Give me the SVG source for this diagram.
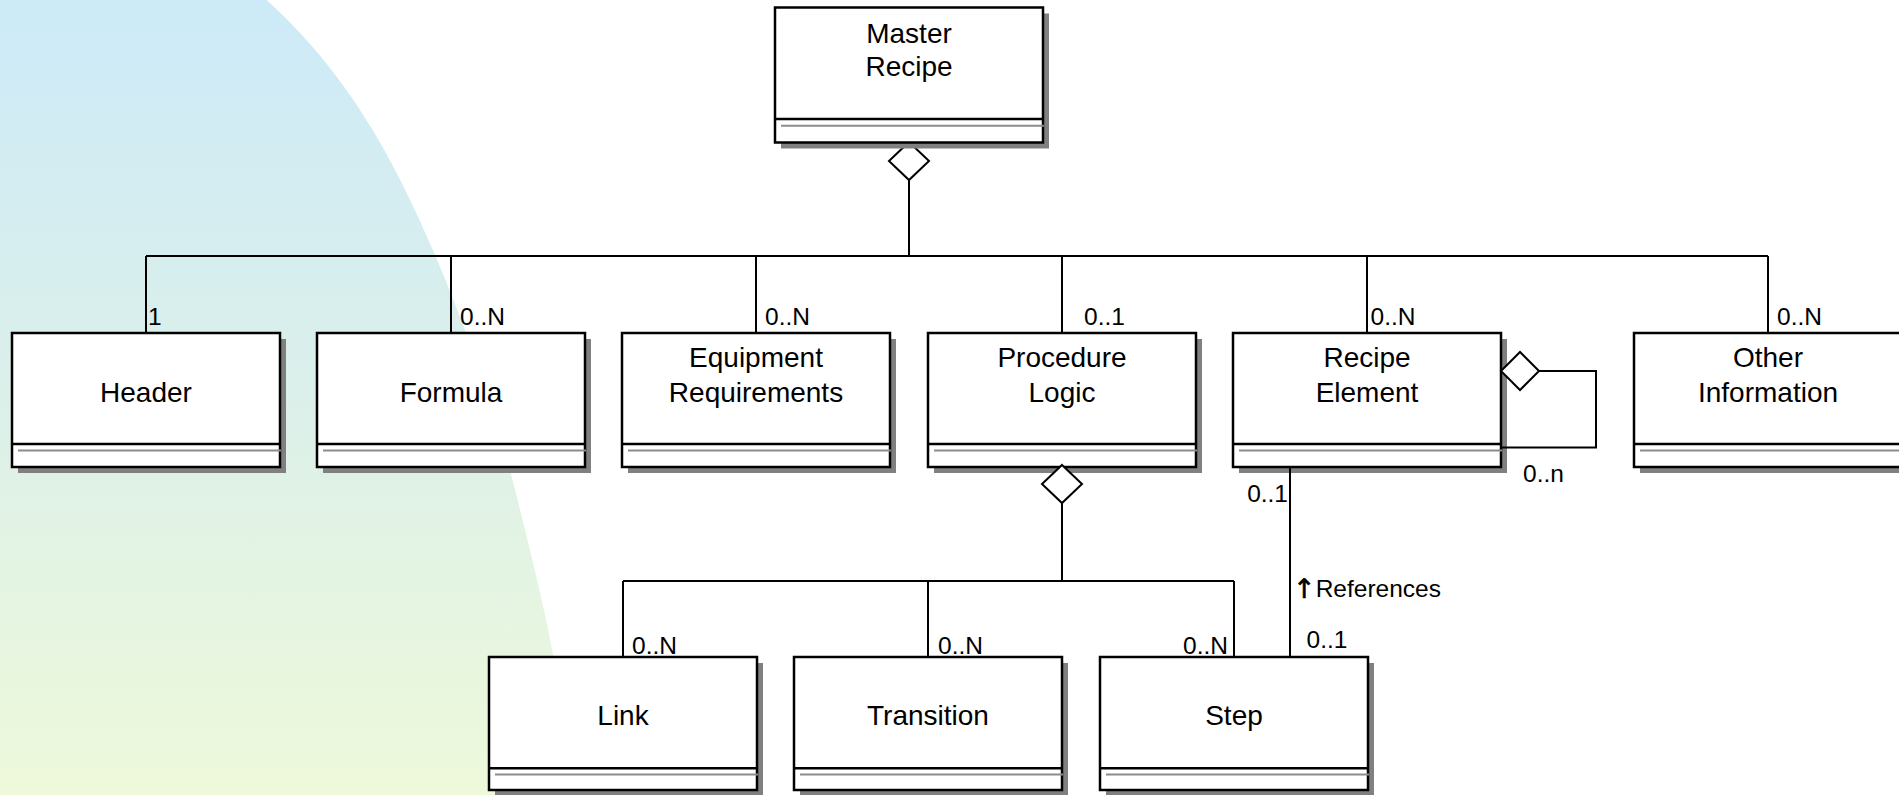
<svg xmlns="http://www.w3.org/2000/svg" width="1899" height="795" viewBox="0 0 1899 795">
  <defs>
    <linearGradient id="bgFill" x1="0" y1="0" x2="0" y2="1">
      <stop offset="0" stop-color="#cdeaf8"/>
      <stop offset="0.5" stop-color="#dcf0ea"/>
      <stop offset="1" stop-color="#eef9da"/>
    </linearGradient>
    <style>
      .shadow { fill: #808080; }
      .box { fill: #ffffff; stroke: #000000; stroke-width: 2.5; }
      .div { stroke: #000000; stroke-width: 2.5; }
      .attr { stroke: #8c8c8c; stroke-width: 2; }
      .name { font-family: "Liberation Sans", Arial, sans-serif; font-size: 28px; text-anchor: middle; fill: #000000; }
      .lbl { font-family: "Liberation Sans", Arial, sans-serif; font-size: 24.5px; fill: #000000; }
      .end { text-anchor: end; }
      .arrow { font-family: "DejaVu Sans", sans-serif; font-size: 27px; stroke: #000000; stroke-width: 0.6; }
      .wire { fill: none; stroke: #000000; stroke-width: 2; }
      .dia { fill: #ffffff; stroke: #000000; stroke-width: 2; }
    </style>
  </defs>

  <rect x="0" y="0" width="1899" height="795" fill="#ffffff"/>
  <!-- backdrop arc on the left -->
  <path id="backdrop" fill="url(#bgFill)" d="M0,0 H266.7 C298.2,28.7 322.9,57.3 343.5,86 C384.1,142.3 410.8,198.7 435,255 C470.1,336.7 497.2,418.3 517.6,500 C530.4,551.3 543.3,602.7 553,654 C561.9,701 569,748 576,795 H0 Z"/>

  <g id="nodes">
    <g id="header">
      <rect class="shadow" x="18" y="339" width="268" height="134"/>
      <rect class="box" x="12" y="333" width="268" height="134"/>
      <line class="div" x1="12" y1="444" x2="280" y2="444"/>
      <line class="attr" x1="18" y1="450.5" x2="281" y2="450.5"/>
      <text class="name" x="146" y="401.5">Header</text>
    </g>
    <g id="formula">
      <rect class="shadow" x="323" y="339" width="268" height="134"/>
      <rect class="box" x="317" y="333" width="268" height="134"/>
      <line class="div" x1="317" y1="444" x2="585" y2="444"/>
      <line class="attr" x1="323" y1="450.5" x2="586" y2="450.5"/>
      <text class="name" x="451" y="401.5">Formula</text>
    </g>
    <g id="equipment-requirements">
      <rect class="shadow" x="628" y="339" width="268" height="134"/>
      <rect class="box" x="622" y="333" width="268" height="134"/>
      <line class="div" x1="622" y1="444" x2="890" y2="444"/>
      <line class="attr" x1="628" y1="450.5" x2="891" y2="450.5"/>
      <text class="name" x="756" y="366.5">Equipment</text>
      <text class="name" x="756" y="401.5">Requirements</text>
    </g>
    <g id="procedure-logic">
      <rect class="shadow" x="934" y="339" width="268" height="134"/>
      <rect class="box" x="928" y="333" width="268" height="134"/>
      <line class="div" x1="928" y1="444" x2="1196" y2="444"/>
      <line class="attr" x1="934" y1="450.5" x2="1197" y2="450.5"/>
      <text class="name" x="1062" y="366.5">Procedure</text>
      <text class="name" x="1062" y="401.5">Logic</text>
    </g>
    <g id="recipe-element">
      <rect class="shadow" x="1239" y="339" width="268" height="134"/>
      <rect class="box" x="1233" y="333" width="268" height="134"/>
      <line class="div" x1="1233" y1="444" x2="1501" y2="444"/>
      <line class="attr" x1="1239" y1="450.5" x2="1502" y2="450.5"/>
      <text class="name" x="1367" y="366.5">Recipe</text>
      <text class="name" x="1367" y="401.5">Element</text>
    </g>
    <g id="other-information">
      <rect class="shadow" x="1640" y="339" width="268" height="134"/>
      <rect class="box" x="1634" y="333" width="268" height="134"/>
      <line class="div" x1="1634" y1="444" x2="1902" y2="444"/>
      <line class="attr" x1="1640" y1="450.5" x2="1903" y2="450.5"/>
      <text class="name" x="1768" y="366.5">Other</text>
      <text class="name" x="1768" y="401.5">Information</text>
    </g>
    <g id="link">
      <rect class="shadow" x="495" y="663" width="268" height="133"/>
      <rect class="box" x="489" y="657" width="268" height="133"/>
      <line class="div" x1="489" y1="768.3" x2="757" y2="768.3"/>
      <line class="attr" x1="495" y1="774.5" x2="758" y2="774.5"/>
      <text class="name" x="623" y="725">Link</text>
    </g>
    <g id="transition">
      <rect class="shadow" x="800" y="663" width="268" height="133"/>
      <rect class="box" x="794" y="657" width="268" height="133"/>
      <line class="div" x1="794" y1="768.3" x2="1062" y2="768.3"/>
      <line class="attr" x1="800" y1="774.5" x2="1063" y2="774.5"/>
      <text class="name" x="928" y="725">Transition</text>
    </g>
    <g id="step">
      <rect class="shadow" x="1106" y="663" width="268" height="133"/>
      <rect class="box" x="1100" y="657" width="268" height="133"/>
      <line class="div" x1="1100" y1="768.3" x2="1368" y2="768.3"/>
      <line class="attr" x1="1106" y1="774.5" x2="1369" y2="774.5"/>
      <text class="name" x="1234" y="725">Step</text>
    </g>
  </g>

  <g id="connectors">
    <!-- aggregation from Master Recipe to its parts -->
    <polygon class="dia" points="909,142 929,161 909,180 889,161"/>
    <path class="wire" d="M909,180 V256 M146,256 H1768 M146,256 V333 M451,256 V333 M756,256 V333 M1062,256 V333 M1367,256 V333 M1768,256 V333"/>
    <text class="lbl" x="148" y="325">1</text>
    <text class="lbl" x="460" y="324.5">0..N</text>
    <text class="lbl" x="765" y="324.5">0..N</text>
    <text class="lbl" x="1084" y="325">0..1</text>
    <text class="lbl" x="1370.5" y="325">0..N</text>
    <text class="lbl" x="1777" y="325">0..N</text>

    <!-- aggregation from Procedure Logic -->
    <polygon class="dia" points="1062,465 1082,484 1062,503 1042,484"/>
    <path class="wire" d="M1062,503 V581 M623,581 H1234 M623,581 V657 M928,581 V657 M1234,581 V657"/>
    <text class="lbl" x="632" y="653.5">0..N</text>
    <text class="lbl" x="938" y="653.5">0..N</text>
    <text class="lbl end" x="1228" y="653.5">0..N</text>

    <!-- Recipe Element self aggregation -->
    <polygon class="dia" points="1501,371 1520,352 1539,371 1520,390"/>
    <path class="wire" d="M1539,371 H1596 V447.5 H1501"/>
    <text class="lbl" x="1523" y="481.5">0..n</text>

    <!-- Step references Recipe Element -->
    <path class="wire" d="M1290,467 V657"/>
    <text class="lbl end" x="1288" y="501.5">0..1</text>
    <text class="lbl" x="1293" y="598"><tspan class="arrow">↑</tspan><tspan y="596.5">References</tspan></text>
    <text class="lbl" x="1306.5" y="648">0..1</text>
  </g>

  <g id="master-recipe">
    <rect class="shadow" x="781" y="13.5" width="268" height="135"/>
    <rect class="box" x="775" y="7.5" width="268" height="135"/>
    <line class="div" x1="775" y1="119" x2="1043" y2="119"/>
    <line class="attr" x1="781" y1="125.7" x2="1044" y2="125.7"/>
    <text class="name" x="909" y="42.5">Master</text>
    <text class="name" x="909" y="75.5">Recipe</text>
  </g>
</svg>
